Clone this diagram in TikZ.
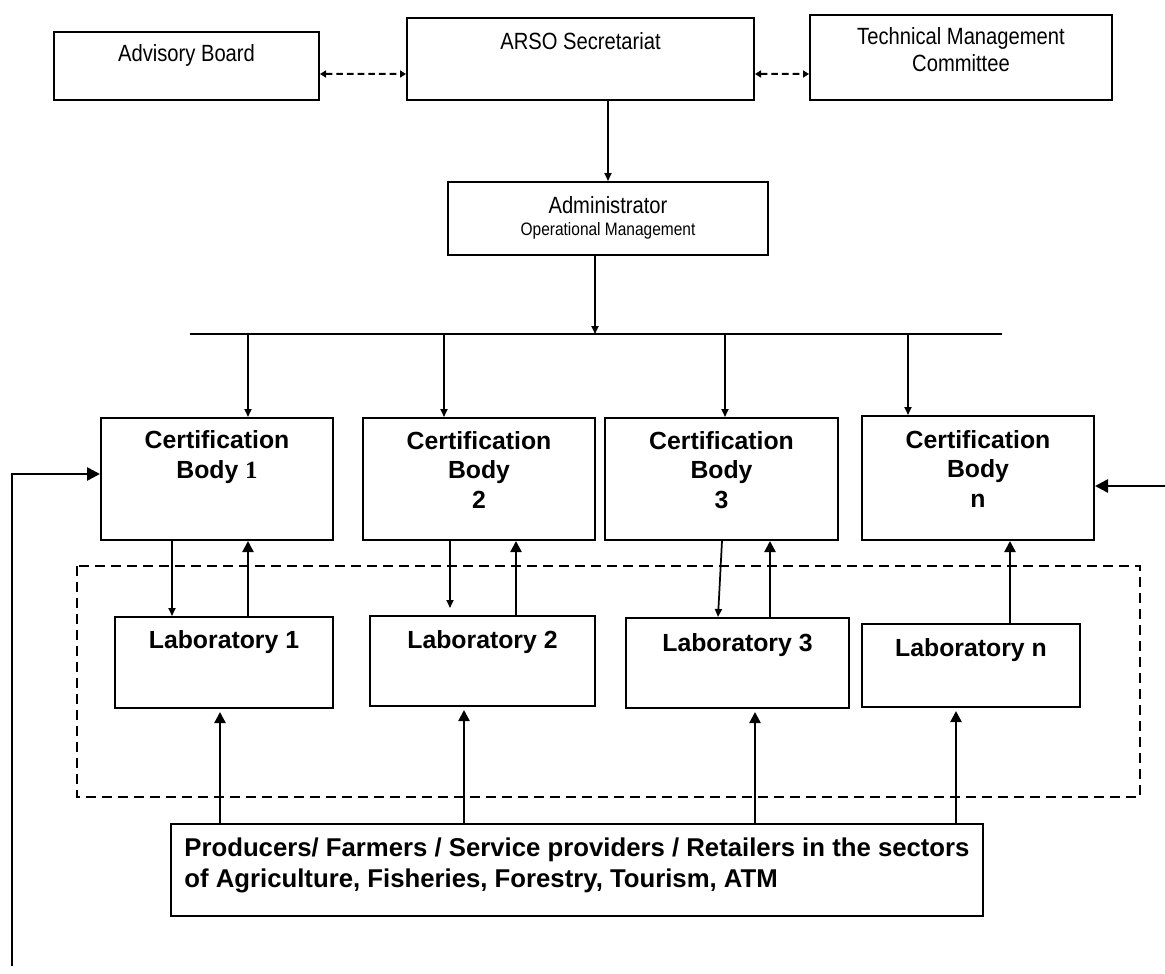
\documentclass[tikz,border=0pt]{standalone}
\usepackage{fontspec}
\setmainfont{Liberation Sans}
\newfontfamily\narrowfont[FakeStretch=0.86]{Liberation Sans}
\newfontfamily\serifone{Liberation Serif}
\usepackage{tikz}
\usetikzlibrary{arrows.meta,positioning}
\newlength{\pix}
\setlength{\pix}{0.75pt}

\begin{document}
\begin{tikzpicture}[
    x=0.75pt, y=-0.75pt,
    unit/.style={rectangle, draw, line width=1.5pt, inner sep=0pt, anchor=north west, align=center},
    topunit/.style={unit, font=\narrowfont\fontsize{17.6}{20.3}\selectfont},
    certunit/.style={unit, font=\bfseries\fontsize{18.6}{22}\selectfont},
    flow/.style={-{Triangle[length=6pt, width=5.25pt]}, line width=1.3pt},
    back/.style={-{Triangle[length=8.25pt, width=8.25pt]}, line width=1.75pt},
    feed/.style={-{Triangle[length=9.75pt, width=9.75pt]}, line width=2pt},
    link/.style={{Triangle[length=4.5pt, width=5.25pt]}-{Triangle[length=4.5pt, width=5.25pt]}, line width=1.5pt, dash pattern=on 5pt off 3pt}
]
    \useasboundingbox (0,0) rectangle (1165,974);

    % Top level
    \node[topunit, minimum width=265\pix, text height=30\pix, text depth=38\pix] (adv) at (53,31) {Advisory Board};
    \node[topunit, minimum width=347\pix, text height=31.3\pix, text depth=50.7\pix] (arso) at (406,17) {ARSO Secretariat};
    \node[topunit, minimum width=302\pix, text height=57\pix, text depth=28\pix] (tmc) at (809,14) {Technical Management\\Committee};
    \node[unit, font=\narrowfont\fontsize{17.6}{16.5}\selectfont, minimum width=320\pix, text height=53\pix, text depth=20\pix] (admin) at (447,181)
        {Administrator\\{\fontsize{13.5}{16}\selectfont Operational Management}};

    % Certification bodies
    \node[certunit, minimum width=232\pix, text height=60.3\pix, text depth=61.7\pix] (cb1) at (100,417) {Certification\\Body {\serifone 1}};
    \node[certunit, minimum width=232\pix, text height=90\pix, text depth=32\pix] (cb2) at (362,417) {Certification\\Body\\2};
    \node[certunit, minimum width=233\pix, text height=90\pix, text depth=32\pix] (cb3) at (604,417) {Certification\\Body\\3};
    \node[certunit, minimum width=232\pix, text height=91\pix, text depth=33\pix] (cbn) at (861,415) {Certification\\Body\\n};

    % Laboratories
    \node[certunit, minimum width=218\pix, text height=31.3\pix, text depth=59.7\pix] (lab1) at (114,616) {Laboratory 1};
    \node[certunit, minimum width=225\pix, text height=32\pix, text depth=58\pix] (lab2) at (369,615) {Laboratory 2};
    \node[certunit, minimum width=223\pix, text height=33\pix, text depth=57\pix] (lab3) at (625,617) {Laboratory 3};
    \node[certunit, minimum width=218\pix, text height=32.7\pix, text depth=50.3\pix] (labn) at (861,623) {Laboratory n};

    % Producers
    \node[unit, font=\bfseries\fontsize{19.3}{23.2}\selectfont, align=left, minimum width=812\pix, text height=63\pix, text depth=29\pix] (prod) at (170,823)
        {Producers/ Farmers / Service providers / Retailers in the sectors\\of Agriculture, Fisheries, Forestry, Tourism, ATM};

    % Laboratory group
    \draw[line width=1.5pt, dash pattern=on 7.5pt off 4.5pt] (77,566) rectangle (1140,797);

    % Arrows
    \coordinate (busL) at (190,334);
    \coordinate (busR) at (1002,334);
    \coordinate (fbfoot) at (12,966);
    \coordinate (nfeed) at (1165,486);

    \draw[link] ([yshift=-8\pix]adv.east) -- ([yshift=-15\pix]arso.west);
    \draw[link] ([yshift=-15\pix]arso.east) -- ([yshift=-16.5\pix]tmc.west);
    \draw[flow] (arso.south -| admin.north) -- (admin.north);

    \coordinate (adminout) at ([xshift=-13\pix]admin.south);
    \draw[flow] (adminout) -- (adminout |- busL);
    \draw[line width=1.3pt] (busL) -- (busR);

    \foreach \cb/\dx in {cb1/31, cb2/-35, cb3/3.5, cbn/-70} {
        \coordinate (tip) at ([xshift=\dx\pix]\cb.north);
        \draw[flow] (tip |- busL) -- (tip);
    }

    % Bodies and laboratories
    \coordinate (d1) at ([xshift=-45\pix]cb1.south);
    \draw[flow] (d1) -- (d1 |- lab1.north);
    \coordinate (u1) at ([xshift=24\pix]lab1.north);
    \draw[back] (u1) -- (u1 |- cb1.south);

    \coordinate (d2) at ([xshift=-29\pix]cb2.south);
    \draw[flow, shorten >=7\pix] (d2) -- (d2 |- lab2.north);
    \coordinate (u2) at ([xshift=33.5\pix]lab2.north);
    \draw[back] (u2) -- (u2 |- cb2.south);

    \draw[flow] ([xshift=0.5\pix]cb3.south) -- ([xshift=-19.5\pix]lab3.north);
    \coordinate (u3) at ([xshift=32.5\pix]lab3.north);
    \draw[back] (u3) -- (u3 |- cb3.south);

    \coordinate (un) at ([xshift=39\pix]labn.north);
    \draw[back] (un) -- (un |- cbn.south);

    % Producers to laboratories
    \foreach \lab/\dx in {lab1/-4, lab2/-18.5, lab3/17.5, labn/-15} {
        \coordinate (tip) at ([xshift=\dx\pix]\lab.south);
        \draw[back, shorten >=3\pix] (tip |- prod.north) -- (tip);
    }

    % Outside links
    \draw[feed] (fbfoot) |- ([yshift=5\pix]cb1.west);
    \draw[feed] (nfeed) -- (nfeed -| cbn.east);

\end{tikzpicture}
\end{document}
